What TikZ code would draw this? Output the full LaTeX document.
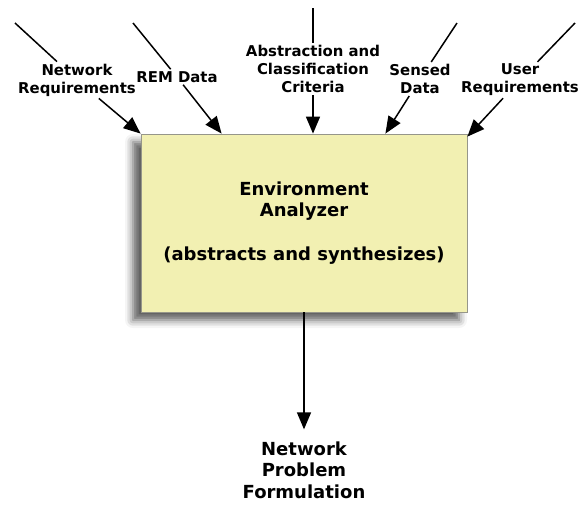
\documentclass[tikz,border=0pt]{standalone}
\usepackage{fontspec}
\setmainfont{DejaVu Sans}
\usetikzlibrary{arrows.meta,shadows.blur}
\definecolor{boxfill}{RGB}{242,240,178}
\definecolor{boxline}{RGB}{150,150,138}

\begin{document}
\begin{tikzpicture}[
    x=1pt, y=-1pt,
    txt/.style={align=center, inner sep=2pt, font=\fontsize{14.9}{18}\selectfont\bfseries},
    bigtxt/.style={align=center, inner sep=2pt, font=\fontsize{18}{21.5}\selectfont\bfseries},
    analyzer/.style={rectangle, draw=boxline, fill=boxfill, line width=0.8pt,
        minimum width=326pt, minimum height=178pt,
        blur shadow={shadow xshift=-8pt, shadow yshift=-8pt, shadow blur radius=8pt, shadow opacity=65}},
    feed/.style={line width=1.5pt},
    flow/.style={line width=1.5pt, -{Triangle[length=17pt,width=14pt]}}
]
\useasboundingbox (0,0) rectangle (579,504);

% the analyzer box
\node[analyzer, bigtxt] (box) at (304,223)
    {Environment\\Analyzer\\[22pt](abstracts and synthesizes)};

% inputs
\node[txt] (nreq) at (77,80) {Network\\Requirements};
\node[txt] (rem) at (177,77) {REM Data};
\node[txt] (crit) at (313,69) {Abstraction and\\Classification\\Criteria};
\node[txt] (sensed) at (420,79) {Sensed\\Data};
\node[txt] (ureq) at (520,80) {User\\Requirements};

% output
\node[bigtxt] (npf) at (304,470) {Network\\Problem\\Formulation};

\coordinate (nreqin) at (15,23);
\coordinate (remin) at (133,23);
\coordinate (critin) at (313,8);
\coordinate (sensedin) at (457,23);
\coordinate (ureqin) at (575,23);

\draw[feed] (nreqin) -- (nreq);
\draw[feed] (remin) -- (rem);
\draw[feed] (critin) -- (crit);
\draw[feed] (sensedin) -- (sensed);
\draw[feed] (ureqin) -- (ureq);

\draw[flow] (nreq) -- (box.north west);
\draw[flow] (rem) -- ([xshift=81pt]box.north west);
\draw[flow] (crit) -- ([xshift=9pt]box.north);
\draw[flow] (sensed) -- ([xshift=-82pt]box.north east);
\draw[flow] (ureq) -- ([yshift=-3pt]box.north east);

\draw[flow, shorten >=10pt] (box.south) -- (npf);
\end{tikzpicture}
\end{document}
